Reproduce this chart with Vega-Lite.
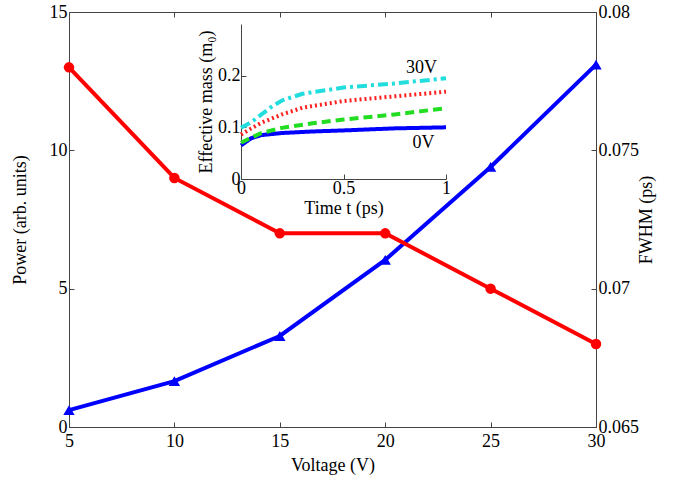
{
  "$schema": "https://vega.github.io/schema/vega-lite/v6.json",
  "width": 527,
  "height": 415,
  "autosize": {"type": "none"},
  "padding": {"left": 69, "top": 12, "right": 81, "bottom": 57},
  "background": "white",
  "config": {
    "font": "Times New Roman",
    "view": {"stroke": "#444", "strokeWidth": 1},
    "axis": {
      "labelFont": "Liberation Serif",
      "labelFontSize": 18,
      "labelColor": "black",
      "titleFont": "Liberation Serif",
      "titleFontSize": 18,
      "titleFontWeight": "normal",
      "titleColor": "black",
      "domainColor": "#444",
      "tickColor": "#444",
      "grid": false,
      "labelFlush": false,
      "labelOverlap": false,
      "tickSize": -5,
      "labelPadding": 7,
      "format": "~g"
    }
  },
  "datasets": {
    "main": [
      {"voltage": 5, "power": 0.61, "fwhm": 0.078},
      {"voltage": 10, "power": 1.66, "fwhm": 0.074},
      {"voltage": 15, "power": 3.29, "fwhm": 0.072},
      {"voltage": 20, "power": 6.04, "fwhm": 0.072},
      {"voltage": 25, "power": 9.4, "fwhm": 0.070},
      {"voltage": 30, "power": 13.1, "fwhm": 0.068}
    ],
    "inset": [
      {"series": "0V", "t": 0, "mass": 0.065},
      {"series": "0V", "t": 0.05, "mass": 0.079},
      {"series": "0V", "t": 0.1, "mass": 0.085},
      {"series": "0V", "t": 0.2, "mass": 0.089},
      {"series": "0V", "t": 0.35, "mass": 0.092},
      {"series": "0V", "t": 0.5, "mass": 0.094},
      {"series": "0V", "t": 0.75, "mass": 0.098},
      {"series": "0V", "t": 1, "mass": 0.10},
      {"series": "10V", "t": 0, "mass": 0.07},
      {"series": "10V", "t": 0.05, "mass": 0.08},
      {"series": "10V", "t": 0.1, "mass": 0.089},
      {"series": "10V", "t": 0.2, "mass": 0.099},
      {"series": "10V", "t": 0.35, "mass": 0.108},
      {"series": "10V", "t": 0.5, "mass": 0.115},
      {"series": "10V", "t": 0.75, "mass": 0.125},
      {"series": "10V", "t": 1, "mass": 0.137},
      {"series": "20V", "t": 0, "mass": 0.086},
      {"series": "20V", "t": 0.05, "mass": 0.098},
      {"series": "20V", "t": 0.1, "mass": 0.109},
      {"series": "20V", "t": 0.2, "mass": 0.125},
      {"series": "20V", "t": 0.3, "mass": 0.138},
      {"series": "20V", "t": 0.5, "mass": 0.151},
      {"series": "20V", "t": 0.75, "mass": 0.16},
      {"series": "20V", "t": 1, "mass": 0.169},
      {"series": "30V", "t": 0, "mass": 0.099},
      {"series": "30V", "t": 0.05, "mass": 0.11},
      {"series": "30V", "t": 0.1, "mass": 0.125},
      {"series": "30V", "t": 0.15, "mass": 0.14},
      {"series": "30V", "t": 0.2, "mass": 0.152},
      {"series": "30V", "t": 0.3, "mass": 0.165},
      {"series": "30V", "t": 0.5, "mass": 0.177},
      {"series": "30V", "t": 0.75, "mass": 0.185},
      {"series": "30V", "t": 1, "mass": 0.195}
    ],
    "labels": [
      {"t": 0.88, "mass": 0.214, "label": "30V"},
      {"t": 0.89, "mass": 0.07, "label": "0V"}
    ]
  },
  "layer": [
    {
      "data": {"name": "main"},
      "layer": [
        {
          "mark": {"type": "line", "color": "#0000ff", "strokeWidth": 4,
                   "point": {"shape": "triangle-up", "size": 130, "filled": true, "color": "#0000ff", "opacity": 1}},
          "encoding": {
            "x": {"field": "voltage", "type": "quantitative",
                  "scale": {"domain": [5, 30], "nice": false},
                  "axis": {"values": [5, 10, 15, 20, 25, 30], "title": "Voltage (V)", "titlePadding": 6, "labelPadding": 10}},
            "y": {"field": "power", "type": "quantitative",
                  "scale": {"domain": [0, 15], "nice": false},
                  "axis": {"orient": "left", "values": [0, 5, 10, 15], "title": "Power (arb. units)", "titlePadding": 20}}
          }
        },
        {
          "mark": {"type": "line", "color": "#ff0000", "strokeWidth": 4,
                   "point": {"shape": "circle", "size": 110, "filled": true, "color": "#ff0000", "opacity": 1}},
          "encoding": {
            "x": {"field": "voltage", "type": "quantitative"},
            "y": {"field": "fwhm", "type": "quantitative",
                  "scale": {"domain": [0.065, 0.08], "nice": false, "zero": false},
                  "axis": {"orient": "right", "values": [0.065, 0.07, 0.075, 0.08], "title": "FWHM (ps)", "titleAngle": 270, "titlePadding": 17}}
          }
        }
      ],
      "resolve": {"scale": {"y": "independent"}}
    },
    {
      "data": {"name": "main"},
      "mark": {"type": "point", "opacity": 0},
      "encoding": {
        "x": {"field": "voltage", "type": "quantitative",
              "scale": {"domain": [5, 30], "nice": false},
              "axis": {"orient": "top", "values": [10, 15, 20, 25], "labels": false, "title": null, "domain": false}}
      }
    },
    {
      "layer": [
        {
          "mark": {"type": "rect", "fill": "white", "stroke": "#444", "strokeWidth": 1},
          "encoding": {
            "x": {"datum": 0, "type": "quantitative",
                  "scale": {"domain": [0, 1], "range": [172, 377], "nice": false},
                  "axis": {"orient": "bottom", "offset": -248, "values": [0, 0.5, 1], "title": "Time t (ps)", "titlePadding": 2, "labelPadding": 5}},
            "x2": {"datum": 1},
            "y": {"datum": 0, "type": "quantitative",
                  "scale": {"domain": [0, 0.3], "range": [167, 12], "nice": false},
                  "axis": {"orient": "left", "offset": -172, "values": [0, 0.1, 0.2], "title": "Effective mass (m₀)", "titlePadding": 2, "labelPadding": 6}},
            "y2": {"datum": 0.3}
          }
        },
        {
          "data": {"name": "inset"},
          "mark": {"type": "line", "strokeWidth": 4},
          "encoding": {
            "x": {"field": "t", "type": "quantitative"},
            "y": {"field": "mass", "type": "quantitative"},
            "color": {"field": "series", "type": "nominal",
                      "scale": {"domain": ["0V", "10V", "20V", "30V"], "range": ["#0000ff", "#22dd22", "#ff2020", "#22dddd"]},
                      "legend": null},
            "strokeDash": {"field": "series", "type": "nominal",
                           "scale": {"domain": ["0V", "10V", "20V", "30V"], "range": [[1, 0], [9, 5], [2, 3], [10, 4, 3, 4]]},
                           "legend": null},
            "order": {"field": "t", "type": "quantitative"}
          }
        },
        {
          "data": {"name": "labels"},
          "mark": {"type": "text", "fontSize": 18, "font": "Liberation Serif", "color": "black"},
          "encoding": {
            "x": {"field": "t", "type": "quantitative"},
            "y": {"field": "mass", "type": "quantitative"},
            "text": {"field": "label"}
          }
        }
      ]
    }
  ],
  "resolve": {"scale": {"x": "independent", "y": "independent"}}
}
